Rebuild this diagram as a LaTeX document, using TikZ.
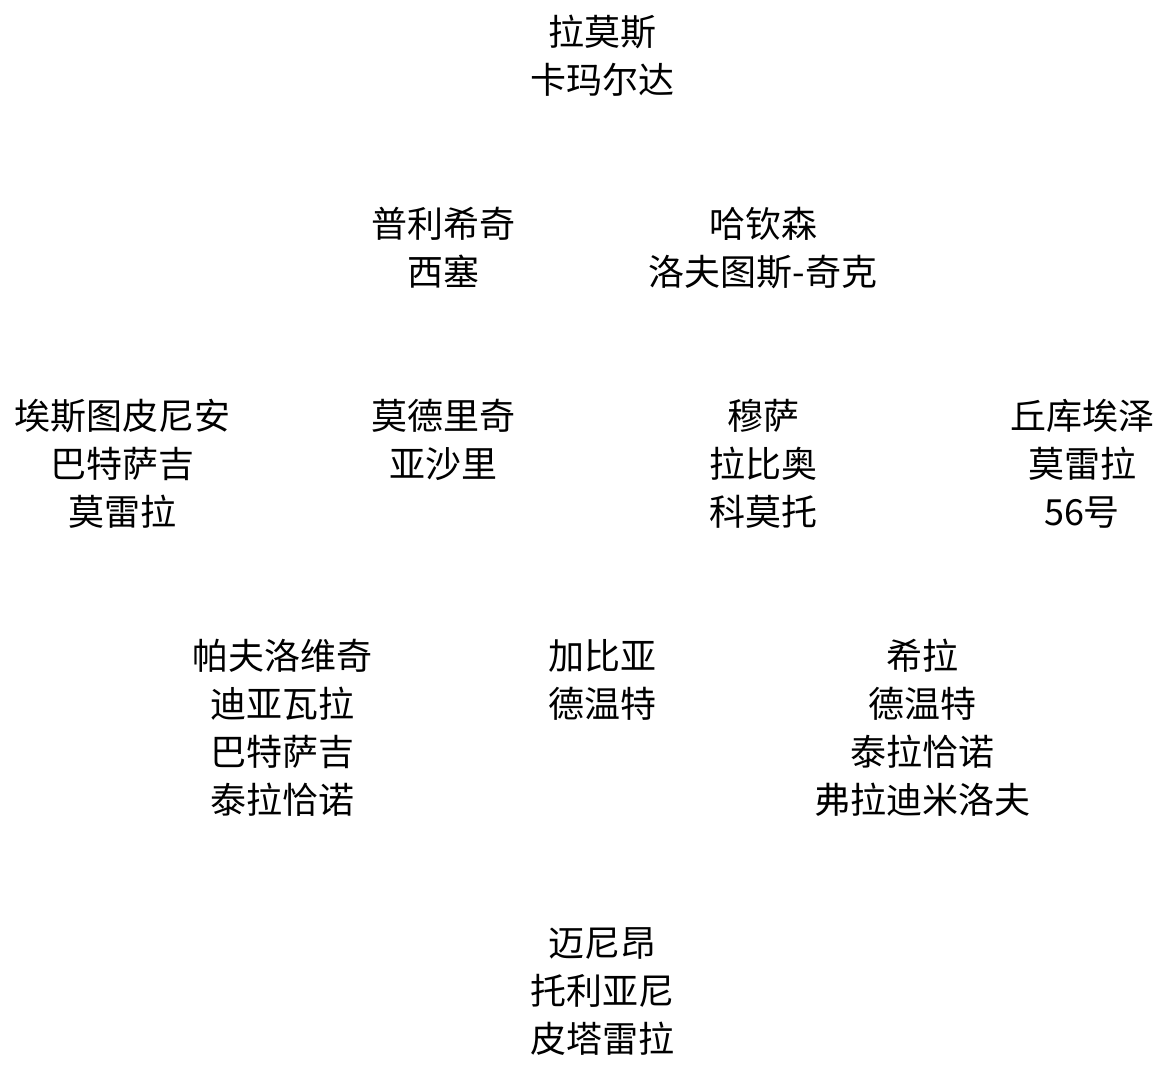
\documentclass[tikz,border=0pt]{standalone}
\usepackage{fontspec}
\setmainfont{Noto Sans CJK SC}
\begin{document}
\begin{tikzpicture}[x=1pt,y=-1pt,
  lbl/.style={align=center,inner sep=0pt,font=\fontsize{36}{48}\selectfont}]
\useasboundingbox (0,0) rectangle (1169,1072);
\node[lbl] (root) at (602,56) {拉莫斯\\卡玛尔达};
\node[lbl] (pul) at (443,248) {普利希奇\\西塞};
\node[lbl] (hut) at (763,248) {哈钦森\\洛夫图斯-奇克};
\node[lbl] (est) at (122,464) {埃斯图皮尼安\\巴特萨吉\\莫雷拉};
\node[lbl] (mod) at (443,440) {莫德里奇\\亚沙里};
\node[lbl] (mus) at (763,464) {穆萨\\拉比奥\\科莫托};
\node[lbl] (chu) at (1082,464) {丘库埃泽\\莫雷拉\\56号};
\node[lbl] (pav) at (282,728) {帕夫洛维奇\\迪亚瓦拉\\巴特萨吉\\泰拉恰诺};
\node[lbl] (gab) at (602,680) {加比亚\\德温特};
\node[lbl] (gil) at (922,728) {希拉\\德温特\\泰拉恰诺\\弗拉迪米洛夫};
\node[lbl] (mai) at (602,992) {迈尼昂\\托利亚尼\\皮塔雷拉};
\end{tikzpicture}
\end{document}
